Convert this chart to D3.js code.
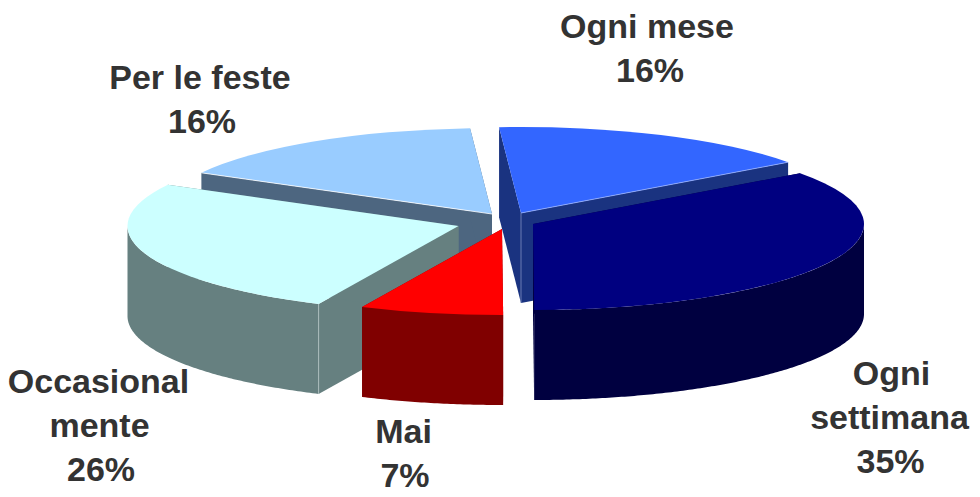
<!DOCTYPE html>
<html>
<head>
<meta charset="utf-8">
<script src="https://cdn.jsdelivr.net/npm/d3@7"></script>
<style>
	html, body { margin: 0; padding: 0; background: #fff; }
	svg { display: block; }
	text { font-family: "Liberation Sans", Arial, sans-serif; font-weight: bold; font-size: 34px; fill: #333333; text-anchor: middle; }
</style>
</head>
<body>
<svg width="980" height="497"></svg>
<script>
var categories = ["Ogni mese", "Ogni settimana", "Mai", "Occasionalmente", "Per le feste"];
var values = [16, 35, 7, 26, 16];
var labelLines = [["Ogni mese"], ["Ogni", "settimana"], ["Mai"], ["Occasional", "mente"], ["Per le feste"]];

var topColors = ["#3366ff", "#000080", "#ff0000", "#ccffff", "#99ccff"];
var wallColors = ["#1a3380", "#000040", "#800000", "#668080", "#4d6680"];

// each slice is pulled out by hand from the pie centre
var centreX = 510, centreY = 219;
var pullX = [11, 23, -8, -51.5, -18];
var pullY = [-6, 5, 10, 7, -5];
var labelX = [647, 889.5, 403.5, 98.5, 200];
var labelY = [38, 385, 443, 393, 89];
var lineShift = [[0, 3], [2, 0, 1], [0, 1.5], [0, 1, 2.5], [0, 2]];
var lineGap = 44;

var rx = 331, ry = 86, depth = 90;
var drawOrder = [4, 0, 3, 1, 2];
var rad = Math.PI / 180;

var svg = d3.select("svg");

var slices = d3.pie()
	.sort(null)
	.startAngle(-3.8 * rad)
	.endAngle(356.2 * rad)(values);

var radius = d3.scaleLinear().domain([0, 1]).range([0, rx]);

var topArc = d3.arc().innerRadius(0).outerRadius(radius(1));

// x, y of a point on the squashed disc, angle clockwise from the top
function px(a, r) { return radius(r) * Math.sin(a); }
function py(a, r) { return -radius(r) * (ry / rx) * Math.cos(a); }

var rimWall = d3.area()
	.x(function(a) { return px(a, 1); })
	.y0(function(a) { return py(a, 1); })
	.y1(function(a) { return py(a, 1) + depth; });

function radialWall(a) {
	return d3.area()
		.x(function(r) { return px(a, r); })
		.y0(function(r) { return py(a, r); })
		.y1(function(r) { return py(a, r) + depth; })([0, 1]);
}

function edgeLine(g, a, color) {
	g.append("line")
		.attr("x1", 0).attr("y1", 0)
		.attr("x2", px(a, 1)).attr("y2", py(a, 1))
		.attr("stroke", color)
		.attr("stroke-width", 0.8);
}

drawOrder.forEach(function(i) {
	var d = slices[i];
	var g = svg.append("g")
		.attr("transform", "translate(" + (centreX + pullX[i]) + "," + (centreY + pullY[i]) + ")");

	[d.startAngle, d.endAngle].forEach(function(a) {
		g.append("path").attr("d", radialWall(a)).attr("fill", wallColors[i]);
	});

	// only the front half of the rim can be seen
	var from = Math.max(d.startAngle, 90 * rad),
		to = Math.min(d.endAngle, 270 * rad);
	if (from < to) {
		var steps = d3.range(from, to, 0.01).concat([to]);
		g.append("path").attr("d", rimWall(steps)).attr("fill", wallColors[i]);
	}

	g.append("path")
		.attr("d", topArc({ startAngle: d.startAngle, endAngle: d.endAngle }))
		.attr("transform", "scale(1," + (ry / rx) + ")")
		.attr("fill", topColors[i]);

	// thin light edges where the top meets a wall, and down the near corners
	if (i === 4) edgeLine(g, d.startAngle, "#ffffff");
	if (i === 0) {
		edgeLine(g, d.endAngle, "#99b3ff");
		g.append("line").attr("x1", 0).attr("x2", 0).attr("y1", 0).attr("y2", depth)
			.attr("stroke", "#8090c0").attr("stroke-width", 0.8);
	}
	if (i === 3) {
		var cx = px(d.startAngle, 1), cy = py(d.startAngle, 1);
		g.append("line").attr("x1", cx).attr("x2", cx).attr("y1", cy).attr("y2", cy + depth)
			.attr("stroke", "#b3c4c4").attr("stroke-width", 0.8);
	}
});

categories.forEach(function(name, i) {
	var lines = labelLines[i].concat([values[i] + "%"]);
	var label = svg.append("text").attr("class", "label").attr("data-name", name);
	lines.forEach(function(line, j) {
		label.append("tspan")
			.attr("x", labelX[i] + lineShift[i][j])
			.attr("y", labelY[i] + j * lineGap)
			.text(line);
	});
});
</script>
</body>
</html>
